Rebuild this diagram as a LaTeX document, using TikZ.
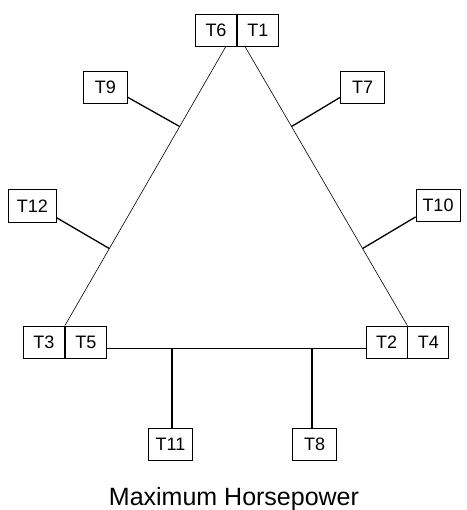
\documentclass[tikz,border=0pt]{standalone}
\usepackage{fontspec}
\setmainfont{Liberation Sans}
\usepackage{tikz}
\usetikzlibrary{positioning, calc}

\begin{document}
\begin{tikzpicture}[x=1pt, y=-1pt,
	tbox/.style={draw, line width=0.8pt, minimum width=44pt, minimum height=32pt, inner sep=0pt, font=\fontsize{18}{20}\selectfont},
	pbox/.style={tbox, minimum width=41pt},
	edge/.style={line width=0.6pt},
	stub/.style={line width=1.3pt}]
	\useasboundingbox (0,0) rectangle (466,510);
	
	% Corner pairs
	\node[pbox] (T6) at (216,30) {T6};
	\node[pbox, right=0pt of T6] (T1) {T1};
	\node[pbox] (T3) at (44,342) {T3};
	\node[pbox, right=0pt of T3] (T5) {T5};
	\node[pbox] (T2) at (386.5,342) {T2};
	\node[pbox, right=0pt of T2] (T4) {T4};
	
	% Side terminals
	\node[tbox] (T9) at (105.5,87) {T9};
	\node[tbox] (T7) at (362.5,87) {T7};
	\node[tbox, minimum width=48pt, minimum height=33pt] (T12) at (32.5,206) {T12};
	\node[tbox] (T10) at (438,205.5) {T10};
	\node[tbox] (T11) at (170.5,444) {T11};
	\node[tbox] (T8) at (314.5,444) {T8};
	
	% Triangle
	\coordinate (apexL) at ([xshift=-11pt]T6.south east);
	\coordinate (apexR) at ([xshift=8pt]T1.south west);
	\draw[edge] (apexL) -- (T3.north east);
	\draw[edge] (apexR) -- (T2.north east);
	\draw[line width=0.8pt] ([yshift=-6pt]T5.east) -- ([yshift=-6pt]T2.west);
	
	% Points on the sides
	\coordinate (p9) at ($(apexL)!0.287!(T3.north east)$);
	\coordinate (p12) at ($(apexL)!0.724!(T3.north east)$);
	\coordinate (p7) at ($(apexR)!0.287!(T2.north east)$);
	\coordinate (p10) at ($(apexR)!0.724!(T2.north east)$);
	\coordinate (base) at ([yshift=-6pt]T5.east);
	
	% Connections
	\draw[stub] ([yshift=6pt]T9.south east) -- (p9);
	\draw[stub] ([yshift=5pt]T12.south east) -- (p12);
	\draw[stub] ([yshift=6pt]T7.south west) -- (p7);
	\draw[stub] ([yshift=5pt]T10.south west) -- (p10);
	\draw[stub] ([xshift=1.5pt]T11.north) -- ([xshift=1.5pt]T11.north |- base);
	\draw[stub] ([xshift=-2.5pt]T8.north) -- ([xshift=-2.5pt]T8.north |- base);
	
	% Title
	\node[anchor=base, font=\fontsize{25}{28}\selectfont] (title) at (234,505) {Maximum Horsepower};
\end{tikzpicture}
\end{document}
